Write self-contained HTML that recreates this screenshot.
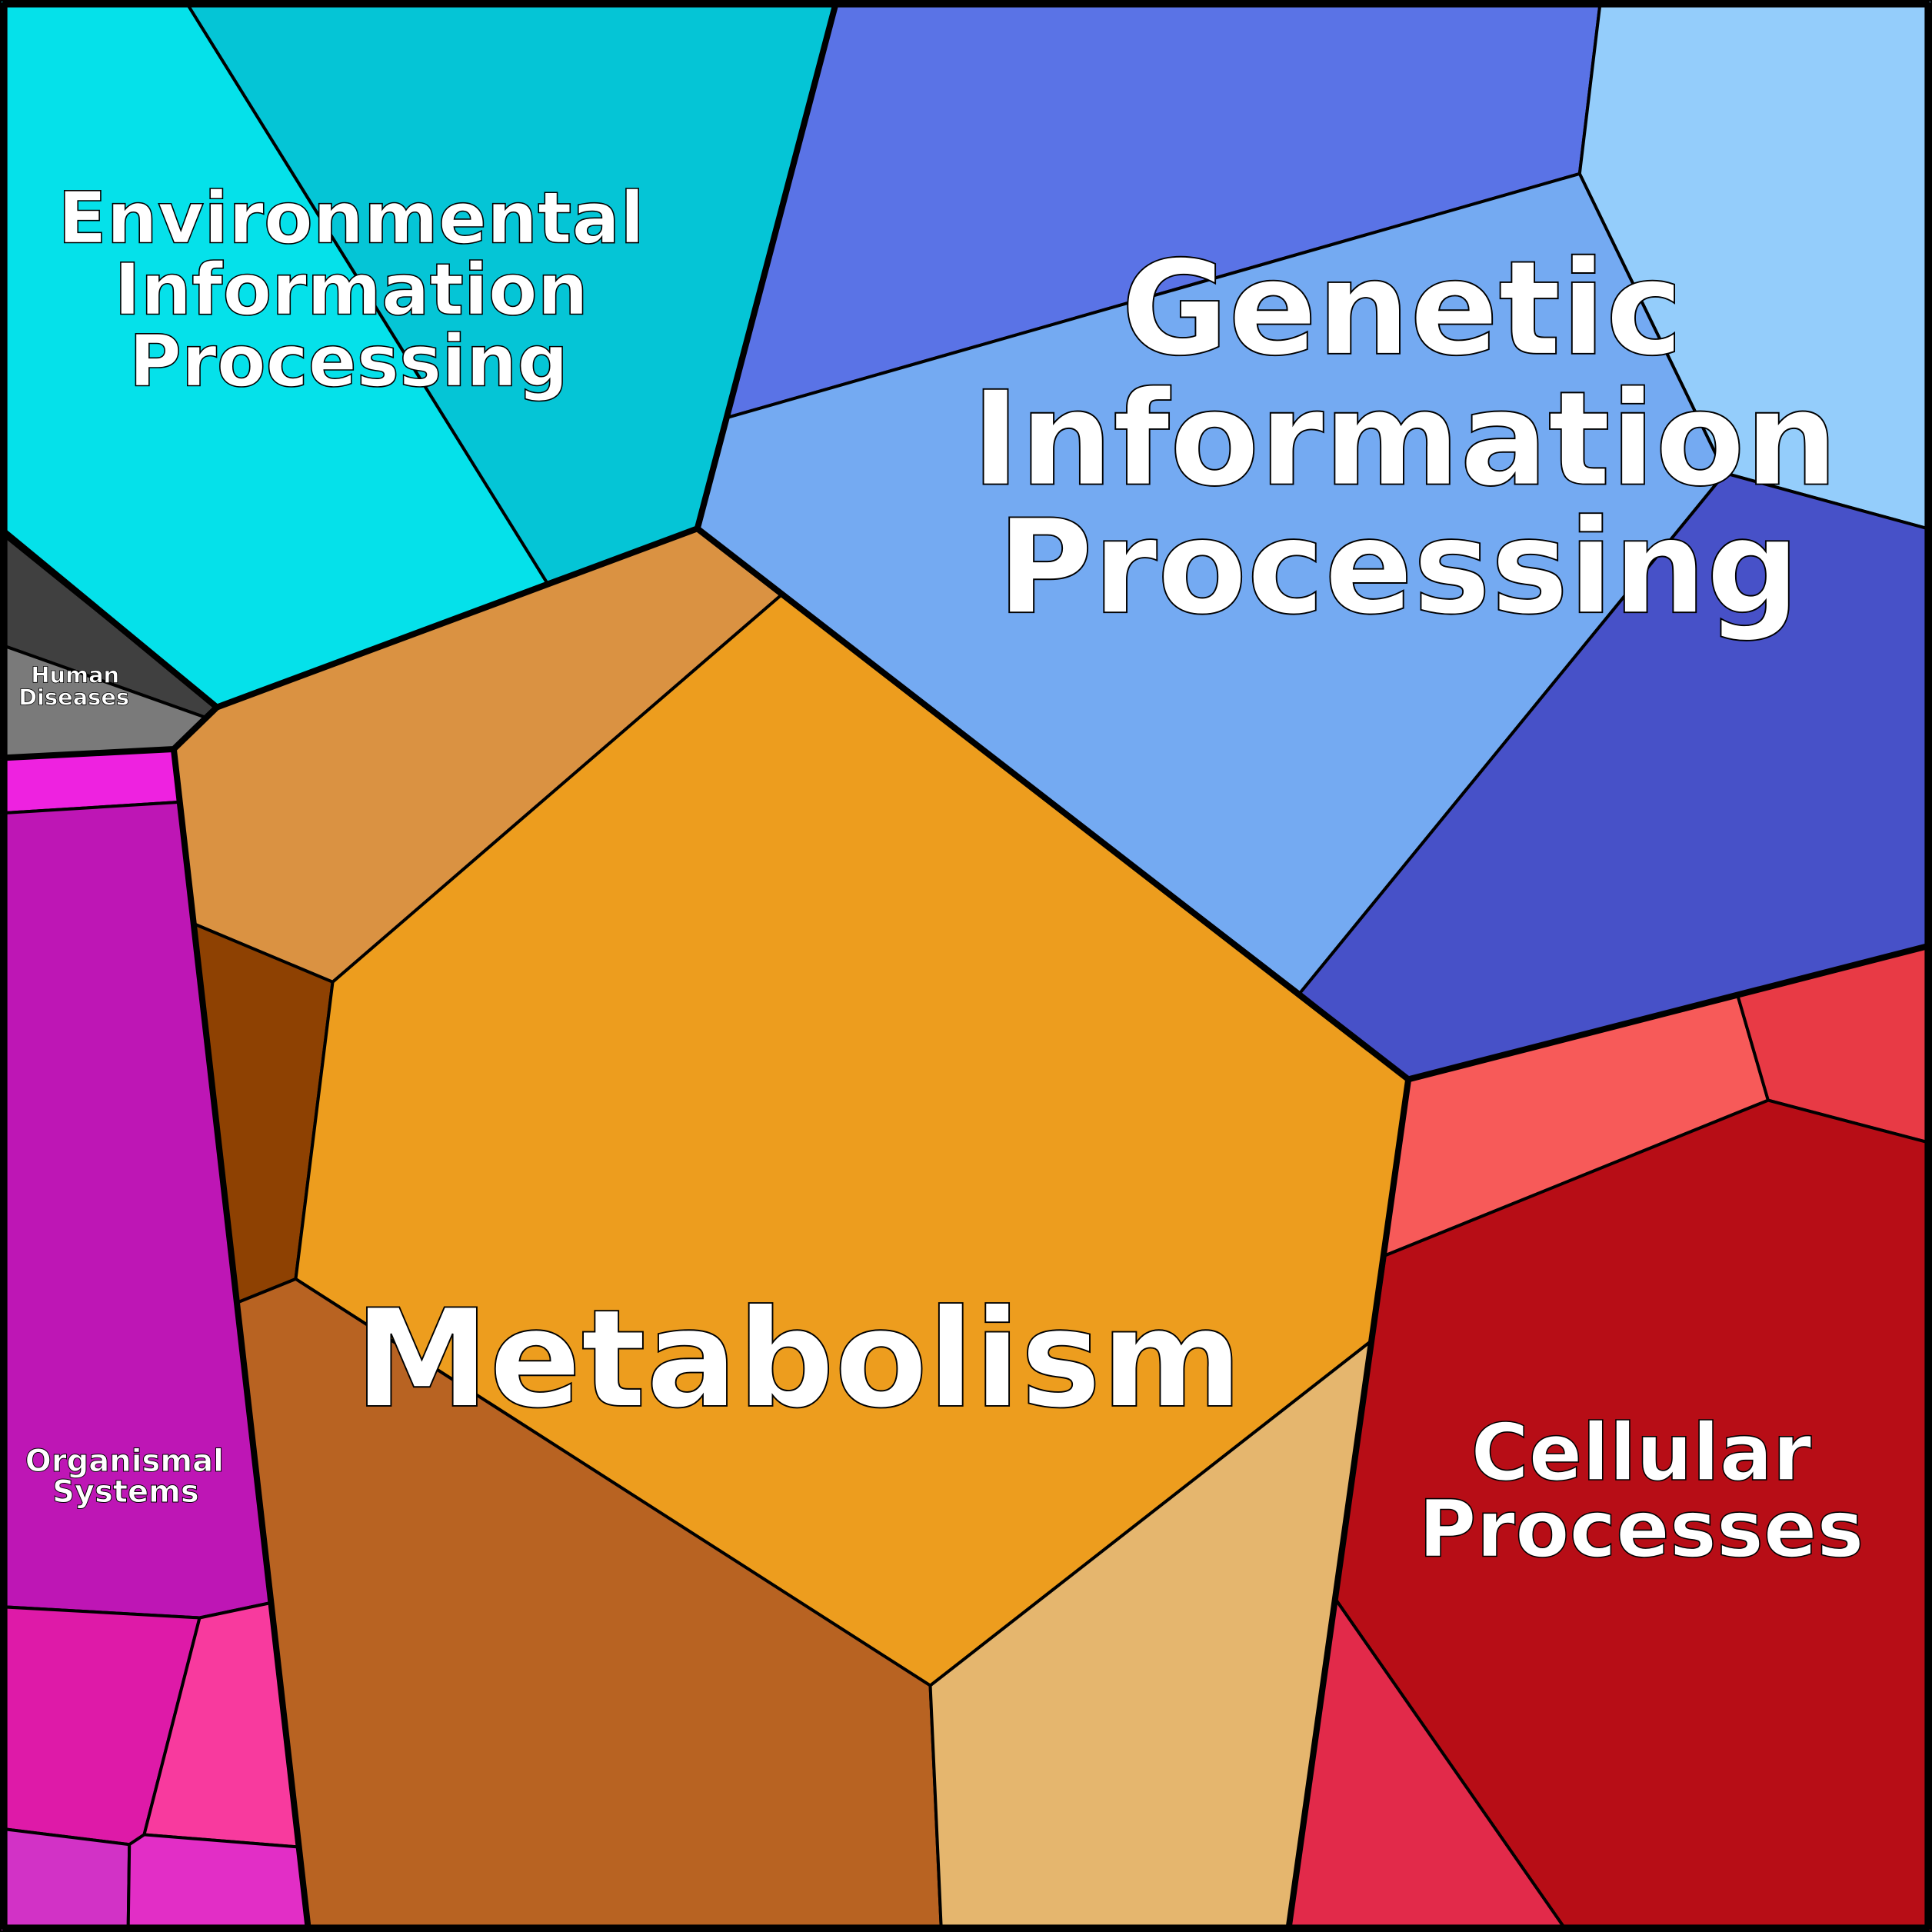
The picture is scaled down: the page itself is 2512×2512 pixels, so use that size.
<!DOCTYPE html>
<html><head><meta charset="utf-8"><style>
html,body{margin:0;padding:0;background:#fff}
svg{display:block}
text{font-family:"DejaVu Sans","Liberation Sans",sans-serif;font-weight:bold;fill:#fff;stroke:#000;text-anchor:middle;paint-order:normal}
</style></head><body>
<svg width="2512" height="2512" viewBox="0 0 1568 1568" xmlns="http://www.w3.org/2000/svg">
<g stroke="#000" stroke-width="2.5" stroke-linejoin="round">
<!-- Environmental -->
<polygon fill="#05e1ea" points="0,0 150,0 444,473 176,574 0,432"/>
<polygon fill="#05c5d6" points="150,0 678,0 566,429 444,473"/>
<!-- Human -->
<polygon fill="#404040" points="0,432 176,574 166,582 0,523"/>
<polygon fill="#7a7a7a" points="0,523 166,582 141,608 0,615"/>
<!-- Organismal -->
<polygon fill="#ee22e0" points="0,615 141,608 146,651 0,660"/>
<polygon fill="#be16b5" points="0,660 146,651 219,1301 162,1313 0,1304"/>
<polygon fill="#de1aa8" points="0,1304 162,1313 117,1489 105,1497 0,1484"/>
<polygon fill="#f83a9e" points="162,1313 219,1301 242,1499 117,1489"/>
<polygon fill="#d232c6" points="0,1484 105,1497 104,1568 0,1568"/>
<polygon fill="#e22ec6" points="105,1497 117,1489 242,1499 250,1568 104,1568"/>
<!-- Metabolism -->
<polygon fill="#da9242" points="176,574 566,429 634,483 270,797 158,750 141,608"/>
<polygon fill="#8e4102" points="158,750 270,797 240,1038 193,1057"/>
<polygon fill="#ed9d1e" points="634,483 1055,806 1143,876 1112,1089 755,1368 240,1038 270,797"/>
<polygon fill="#b86322" points="193,1057 240,1038 755,1368 764,1568 250,1568"/>
<polygon fill="#e5b66e" points="755,1368 1112,1089 1046,1568 764,1568"/>
<!-- Genetic -->
<polygon fill="#5a73e6" points="678,0 1299,0 1282,141 590,339 566,429"/>
<polygon fill="#94cdfb" points="1299,0 1568,0 1568,430 1400,384 1282,141"/>
<polygon fill="#74aaf2" points="590,339 1282,141 1400,384 1055,806 566,429"/>
<polygon fill="#4751c8" points="1400,384 1568,430 1568,768 1143,876 1055,806"/>
<!-- Cellular -->
<polygon fill="#f75a59" points="1143,876 1410,807 1435,893 1124,1019"/>
<polygon fill="#e83a45" points="1410,807 1568,768 1568,928 1435,893"/>
<polygon fill="#b70d16" points="1124,1019 1435,893 1568,928 1568,1568 1272,1568 1084,1298"/>
<polygon fill="#e22a4a" points="1084,1298 1272,1568 1046,1568"/>
</g>
<g fill="none" stroke="#000" stroke-width="5" stroke-linejoin="round">
<polyline points="678,4 566,429 176,574 4,432"/>
<polyline points="176,574 141,608 4,615"/>
<polyline points="141,608 250,1564"/>
<polyline points="566,429 1143,876 1564,768"/>
<polyline points="1143,876 1046,1564"/>
<rect x="3.5" y="3.5" width="1561" height="1561"/>
</g>
<text font-size="58" stroke-width="1" x="285" y="197">Environmental</text>
<text font-size="58" stroke-width="1" x="285" y="255">Information</text>
<text font-size="58" stroke-width="1" x="283" y="313">Processing</text>
<text font-size="106" stroke-width="1.2" x="1138" y="287">Genetic</text>
<text font-size="106" stroke-width="1.2" x="1140" y="393">Information</text>
<text font-size="106" stroke-width="1.2" x="1135" y="497">Processing</text>
<text font-size="110" stroke-width="1.2" x="648" y="1141">Metabolism</text>
<text font-size="64" stroke-width="1" x="1332" y="1201">Cellular</text>
<text font-size="64" stroke-width="1" x="1332" y="1263">Processes</text>
<text font-size="25" stroke-width="0.6" x="101" y="1194">Organismal</text>
<text font-size="25" stroke-width="0.6" x="102" y="1219">Systems</text>
<text font-size="18" stroke-width="0.5" x="61" y="554">Human</text>
<text font-size="18" stroke-width="0.5" x="60" y="572">Diseases</text>
</svg>
</body></html>
